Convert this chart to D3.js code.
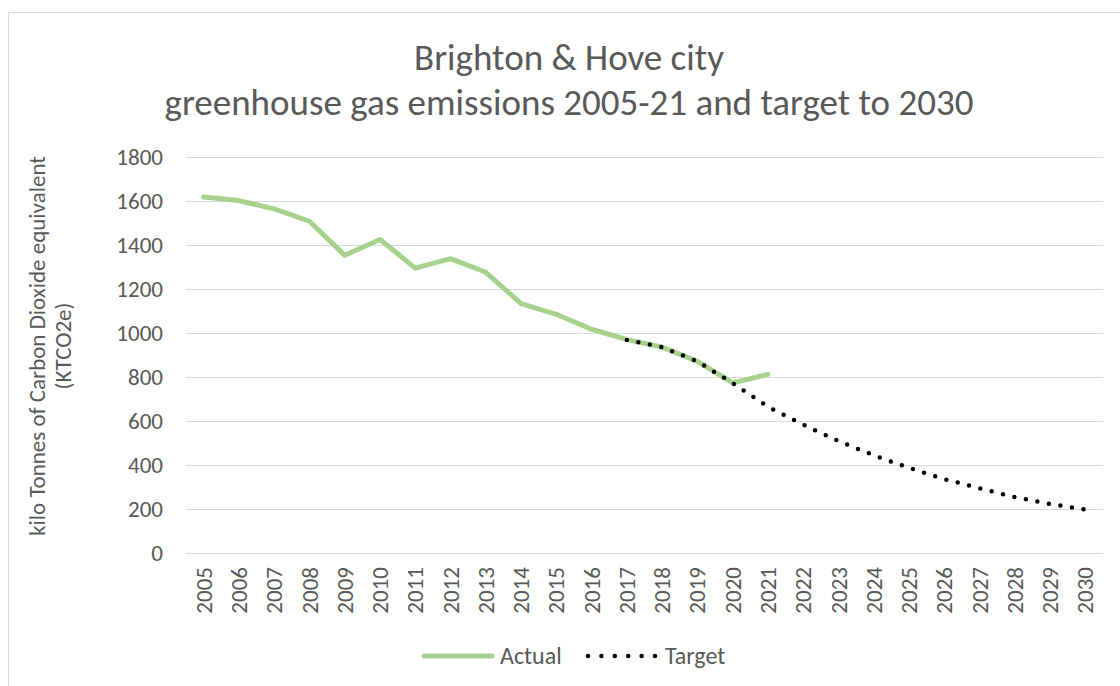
<!DOCTYPE html>
<meta charset="utf-8">
<style>
body { margin: 0; background: #fff; }
svg { display: block; font-family: Carlito, Calibri, Lato, sans-serif; }
.grid line { stroke: #d9d9d9; stroke-width: 1.3px; shape-rendering: crispEdges; }
.tick-label { fill: #595959; font-size: 23px; }
.title { fill: #595959; font-size: 37px; }
.axis-title { fill: #595959; font-size: 23px; }
.legend text { fill: #595959; font-size: 24px; }
</style>
<body>
<script src="https://d3js.org/d3.v7.min.js"></script>
<script>

var years = ["2005","2006","2007","2008","2009","2010","2011","2012","2013","2014","2015","2016","2017",
             "2018","2019","2020","2021","2022","2023","2024","2025","2026","2027","2028","2029","2030"];

// actual emissions 2005-2021 (ktCO2e)
var actualYears = years.slice(0, 17);
var actual = [1618, 1602, 1564, 1508, 1353, 1425, 1295, 1338, 1276, 1134, 1085, 1017, 970, 936, 871, 773, 812];

// target path 2017-2030
var targetYears = years.slice(12);
var target = [968, 936, 871, 772, 665, 583, 509, 444, 387, 336, 294, 254, 223, 197];

var yTicks = [0, 200, 400, 600, 800, 1000, 1200, 1400, 1600, 1800];

var width = 1120, height = 686;

var svg = d3.select("body").append("svg")
    .attr("width", width)
    .attr("height", height);

svg.append("rect")
    .attr("x", 8.5).attr("y", 12.5)
    .attr("width", 1130).attr("height", 700)
    .attr("fill", "#fff")
    .attr("stroke", "#d9d9d9");

var x = d3.scalePoint()
    .domain(years)
    .range([186, 1103])
    .padding(0.5);

var y = d3.scaleLinear()
    .domain([0, 1800])
    .range([553, 157]);

// gridlines
svg.append("g")
    .attr("class", "grid")
  .selectAll("line")
  .data(yTicks)
  .enter().append("line")
    .attr("x1", 186).attr("x2", 1103)
    .attr("y1", function(d) { return Math.round(y(d)) + 0.5; })
    .attr("y2", function(d) { return Math.round(y(d)) + 0.5; });

// y tick labels
svg.append("g")
  .selectAll("text")
  .data(yTicks)
  .enter().append("text")
    .attr("class", "tick-label")
    .attr("x", 163)
    .attr("y", function(d) { return y(d); })
    .attr("dy", "0.35em")
    .attr("text-anchor", "end")
    .text(function(d) { return d; });

// x tick labels, rotated
svg.append("g")
  .selectAll("text")
  .data(years)
  .enter().append("text")
    .attr("class", "tick-label")
    .attr("transform", function(d) { return "translate(" + x(d) + ",567) rotate(-90)"; })
    .attr("dy", "0.35em")
    .attr("text-anchor", "end")
    .text(function(d) { return d; });

// title
svg.append("text")
    .attr("class", "title")
    .attr("x", 569).attr("y", 70)
    .attr("text-anchor", "middle")
    .text("Brighton & Hove city");
svg.append("text")
    .attr("class", "title")
    .attr("x", 569).attr("y", 115)
    .attr("text-anchor", "middle")
    .text("greenhouse gas emissions 2005-21 and target to 2030");

// y axis title
var yt = svg.append("text")
    .attr("class", "axis-title")
    .attr("transform", "translate(0,346) rotate(-90)")
    .attr("text-anchor", "middle");
yt.append("tspan").attr("x", 0).attr("y", 45).text("kilo Tonnes of Carbon Dioxide equivalent");
yt.append("tspan").attr("x", 0).attr("y", 71).text("(KTCO2e)");

var line = d3.line()
    .x(function(d) { return x(d[0]); })
    .y(function(d) { return y(d[1]); });

svg.append("path")
    .datum(d3.zip(actualYears, actual))
    .attr("fill", "none")
    .attr("stroke", "#a9d18e")
    .attr("stroke-width", 5)
    .attr("stroke-linejoin", "round")
    .attr("stroke-linecap", "round")
    .attr("d", line);

svg.append("path")
    .datum(d3.zip(targetYears, target))
    .attr("fill", "none")
    .attr("stroke", "#000")
    .attr("stroke-width", 4.5)
    .attr("stroke-linecap", "round")
    .attr("stroke-dasharray", "0,11.7")
    .attr("d", line);

// legend
var legend = svg.append("g").attr("class", "legend");
legend.append("line")
    .attr("x1", 424).attr("x2", 492)
    .attr("y1", 656).attr("y2", 656)
    .attr("stroke", "#a9d18e")
    .attr("stroke-width", 5)
    .attr("stroke-linecap", "round");
legend.append("text")
    .attr("x", 500).attr("y", 656)
    .attr("dy", "0.35em")
    .text("Actual");
legend.append("line")
    .attr("x1", 588).attr("x2", 656)
    .attr("y1", 656).attr("y2", 656)
    .attr("stroke", "#000")
    .attr("stroke-width", 4.5)
    .attr("stroke-linecap", "round")
    .attr("stroke-dasharray", "0,13.4");
legend.append("text")
    .attr("x", 665).attr("y", 656)
    .attr("dy", "0.35em")
    .text("Target");

</script>
